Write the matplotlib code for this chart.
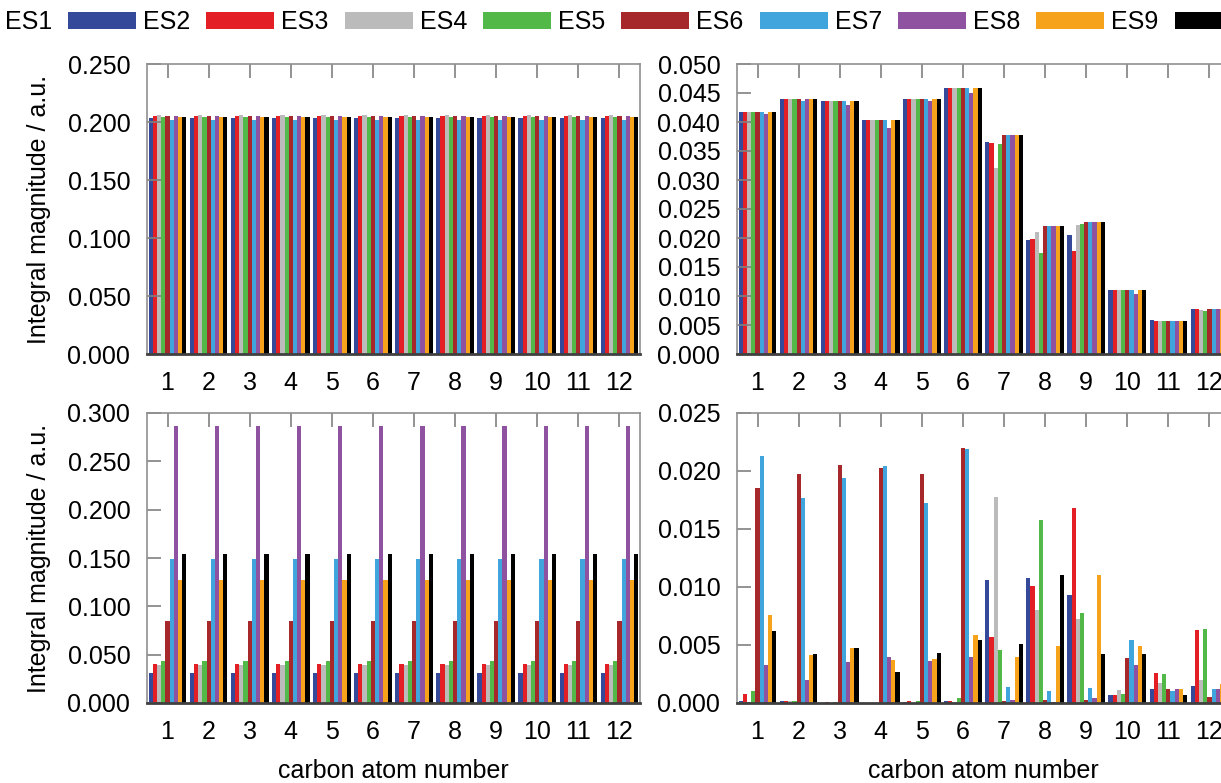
import numpy as np
import matplotlib
matplotlib.use('Agg')
import matplotlib.pyplot as plt
from matplotlib.patches import Patch
from matplotlib.ticker import FormatStrFormatter

plt.rcParams['font.family'] = ['Liberation Sans', 'DejaVu Sans']

carbons = list(range(1, 13))
labels = ['ES1', 'ES2', 'ES3', 'ES4', 'ES5', 'ES6', 'ES7', 'ES8', 'ES9']
colors = ['#35499b', '#e31e24', '#bbbbbb', '#52b847', '#a6282a',
          '#41a5dd', '#8e52a1', '#f7a21b', '#000000']

# top left: same level for every carbon atom
tl_level = [0.2034, 0.2054, 0.2060, 0.2043, 0.2050, 0.2017, 0.2052, 0.2043, 0.2043]
# bottom left
bl_level = [0.0310, 0.0407, 0.0398, 0.0431, 0.0845, 0.1494, 0.2863, 0.1269, 0.1542]

# top right, one list per series (12 carbons)
tr_es1 = [0.0417, 0.0440, 0.0436, 0.0403, 0.0440, 0.0458, 0.0366, 0.0197, 0.0206, 0.0110, 0.0058, 0.0077]
tr_es2 = [0.0417, 0.0440, 0.0436, 0.0403, 0.0440, 0.0458, 0.0364, 0.0199, 0.0178, 0.0110, 0.0057, 0.0077]
tr_es3 = [0.0417, 0.0440, 0.0436, 0.0403, 0.0440, 0.0458, 0.0321, 0.0211, 0.0222, 0.0110, 0.0057, 0.0076]
tr_es4 = [0.0417, 0.0440, 0.0436, 0.0403, 0.0440, 0.0458, 0.0362, 0.0175, 0.0225, 0.0110, 0.0057, 0.0075]
tr_es5 = [0.0417, 0.0440, 0.0436, 0.0403, 0.0440, 0.0458, 0.0377, 0.0221, 0.0228, 0.0110, 0.0057, 0.0077]
tr_es6 = [0.0417, 0.0437, 0.0436, 0.0403, 0.0440, 0.0458, 0.0377, 0.0221, 0.0228, 0.0110, 0.0057, 0.0077]
tr_es7 = [0.0414, 0.0440, 0.0429, 0.0390, 0.0436, 0.0450, 0.0377, 0.0221, 0.0228, 0.0104, 0.0057, 0.0077]
tr_es8 = [0.0417, 0.0440, 0.0436, 0.0403, 0.0440, 0.0458, 0.0377, 0.0221, 0.0228, 0.0110, 0.0057, 0.0077]
tr_es9 = [0.0417, 0.0440, 0.0436, 0.0403, 0.0440, 0.0458, 0.0377, 0.0221, 0.0228, 0.0110, 0.0057, 0.0077]

# bottom right
br_es1 = [0.0002, 0.0002, 0.0000, 0.0000, 0.0001, 0.0002, 0.0106, 0.0108, 0.0093, 0.0007, 0.0012, 0.0015]
br_es2 = [0.0008, 0.0002, 0.0001, 0.0000, 0.00015, 0.0002, 0.0057, 0.0101, 0.0168, 0.0007, 0.0026, 0.0063]
br_es3 = [0.0000, 0.0002, 0.0000, 0.0000, 0.0000, 0.0001, 0.0178, 0.0080, 0.0072, 0.0011, 0.0017, 0.0020]
br_es4 = [0.0010, 0.0002, 0.0001, 0.0000, 0.0002, 0.0004, 0.0046, 0.0158, 0.0078, 0.0008, 0.0025, 0.0064]
br_es5 = [0.0185, 0.0197, 0.0205, 0.0203, 0.0197, 0.0220, 0.0002, 0.0003, 0.0003, 0.0039, 0.0012, 0.0005]
br_es6 = [0.0213, 0.0177, 0.0194, 0.0204, 0.0172, 0.0219, 0.0014, 0.0010, 0.0013, 0.0054, 0.0010, 0.0012]
br_es7 = [0.0033, 0.0020, 0.0035, 0.0040, 0.0036, 0.0040, 0.0003, 0.0001, 0.0004, 0.0033, 0.0012, 0.0012]
br_es8 = [0.0076, 0.0041, 0.0047, 0.0037, 0.0038, 0.0059, 0.0040, 0.0049, 0.0110, 0.0049, 0.0012, 0.0016]
br_es9 = [0.0062, 0.0042, 0.0047, 0.0027, 0.0043, 0.0054, 0.0051, 0.0110, 0.0042, 0.0042, 0.0007, 0.0016]

tl = [[v] * 12 for v in tl_level]
bl = [[v] * 12 for v in bl_level]
tr = [tr_es1, tr_es2, tr_es3, tr_es4, tr_es5, tr_es6, tr_es7, tr_es8, tr_es9]
br = [br_es1, br_es2, br_es3, br_es4, br_es5, br_es6, br_es7, br_es8, br_es9]

W, H = 1221, 783
fig = plt.figure(figsize=(W / 100, H / 100), dpi=100)

def px(l, t, r, b):
    return [l / W, 1 - b / H, (r - l) / W, (b - t) / H]

ax_tl = fig.add_axes(px(147, 64, 640, 354))
ax_bl = fig.add_axes(px(147, 413, 640, 703))
ax_tr = fig.add_axes(px(737, 64, 1230, 354))
ax_br = fig.add_axes(px(737, 413, 1230, 703))

x = np.array(carbons)
bw = 0.102

def draw(ax, data, ymax, step):
    for k, vals in enumerate(data):
        ax.bar(x + (k - 4) * bw, vals, width=bw, color=colors[k], linewidth=0)
    ax.set_xlim(0.5, 12.5)
    ax.set_ylim(0, ymax)
    ax.set_yticks(np.arange(0, ymax + step / 2, step))
    ax.set_xticks(carbons)
    ax.yaxis.set_major_formatter(FormatStrFormatter('%.3f'))
    ax.tick_params(axis='x', bottom=False, top=True, labelbottom=True, labeltop=False,
                   direction='in', length=10, width=1.2, color='#808080',
                   labelsize=18, pad=12)
    ax.tick_params(axis='y', left=True, right=False, direction='in', length=10,
                   width=1.2, color='#808080', labelsize=18, pad=12)
    for s in ['top', 'left', 'right']:
        ax.spines[s].set_color('#909090')
        ax.spines[s].set_linewidth(1.2)
    ax.spines['bottom'].set_color('#404040')
    ax.spines['bottom'].set_linewidth(2)

draw(ax_tl, tl, 0.25, 0.05)
draw(ax_bl, bl, 0.30, 0.05)
draw(ax_tr, tr, 0.05, 0.005)
draw(ax_br, br, 0.025, 0.005)

ax_tl.set_ylabel('Integral magnitude / a.u.', fontsize=18, labelpad=12)
ax_bl.set_ylabel('Integral magnitude / a.u.', fontsize=18, labelpad=12)
ax_bl.set_xlabel('carbon atom number', fontsize=18, labelpad=11)
ax_br.set_xlabel('carbon atom number', fontsize=18, labelpad=11)

handles = [Patch(facecolor=c, edgecolor='none') for c in colors]
fig.legend(handles, labels, loc='center left', bbox_to_anchor=(0.004, 1 - 22 / H),
           ncol=9, frameon=False, fontsize=18, markerfirst=False,
           handlelength=2.72, handleheight=0.68, handletextpad=0.64,
           columnspacing=0.28, borderpad=0, borderaxespad=0)

fig.savefig('out.png', dpi=100)
